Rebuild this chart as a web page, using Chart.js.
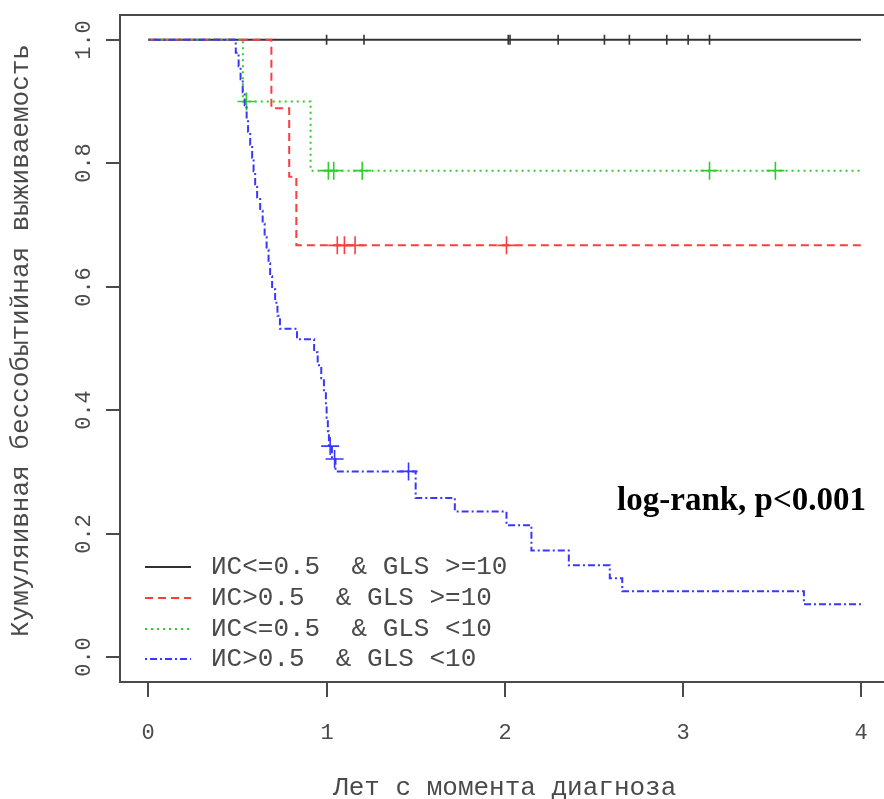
<!DOCTYPE html>
<html>
<head>
<meta charset="utf-8">
<script src="https://cdn.jsdelivr.net/npm/chart.js@4.4.1/dist/chart.umd.min.js"></script>
<style>
	html, body { margin: 0; padding: 0; background: #fff; overflow: hidden; }
	canvas { display: block; }
</style>
</head>
<body>
<canvas id="km-chart" width="900" height="799"></canvas>
<script>
// legend labels, one per group
var groups = ['ИС<=0.5  & GLS >=10', 'ИС>0.5  & GLS >=10', 'ИС<=0.5  & GLS <10', 'ИС>0.5  & GLS <10'];

// step curves: time in years and survival from that time on
var blackTimes = [0, 4];
var blackSurv = [1, 1];
var blackCensored = [1.00, 1.21, 2.02, 2.03, 2.30, 2.56, 2.70, 2.91, 3.03, 3.15];

var redTimes = [0, 0.69, 0.79, 0.83, 4];
var redSurv = [1, 0.889, 0.778, 0.667, 0.667];
var redCensored = [1.06, 1.10, 1.16, 2.01];

var greenTimes = [0, 0.53, 0.91, 4];
var greenSurv = [1, 0.9, 0.788, 0.788];
var greenCensored = [0.55, 1.01, 1.04, 1.20, 3.15, 3.52];

var blueTimes = [0, 0.49, 0.506, 0.517, 0.529, 0.540, 0.551, 0.559, 0.571, 0.582, 0.590, 0.599, 0.610,
	0.627, 0.641, 0.652, 0.663, 0.674, 0.683, 0.694, 0.711, 0.724, 0.738, 0.834,
	0.93, 0.95, 0.97, 0.985, 0.996, 1.00, 1.007, 1.013, 1.03, 1.05,
	1.50, 1.72, 2.01, 2.15, 2.36, 2.59, 2.66, 3.68, 4];
var blueSurv = [1, 0.979, 0.957, 0.936, 0.915, 0.894, 0.872, 0.851, 0.830, 0.809, 0.787, 0.766, 0.745,
	0.723, 0.702, 0.681, 0.660, 0.638, 0.617, 0.596, 0.574, 0.553, 0.532, 0.515,
	0.494, 0.473, 0.452, 0.430, 0.409, 0.388, 0.366, 0.342, 0.321, 0.301,
	0.258, 0.236, 0.214, 0.173, 0.149, 0.128, 0.107, 0.086, 0.086];
var blueCensored = [1.02, 1.045, 1.46];

// axes
var xTicks = [0, 1, 2, 3, 4];
var yTicks = [0, 0.2, 0.4, 0.6, 0.8, 1.0];
var yTickLabels = ['0.0', '0.2', '0.4', '0.6', '0.8', '1.0'];
var xTitle = 'Лет с момента диагноза';
var yTitle = 'Кумуляивная бессобытийная выживаемость';
var note = 'log-rank, p<0.001';

var colors = ['rgb(50,50,50)', 'rgb(255,60,60)', 'rgb(45,205,45)', 'rgb(55,55,255)'];
var dashes = [[], [8, 5], [2, 4], [2, 3, 7, 3]];
var textColor = '#4a4a4a';
var mono = '"Liberation Mono", "DejaVu Sans Mono", monospace';

function toPoints(times, surv) {
	return times.map(function (t, i) { return {x: t, y: surv[i]}; });
}

// survival value at time t for a step curve
function survAt(times, surv, t) {
	var s = surv[0];
	for (var i = 0; i < times.length; i++) {
		if (times[i] <= t) s = surv[i];
	}
	return s;
}

function censorPoints(times, surv, cens) {
	return cens.map(function (t) { return {x: t, y: survAt(times, surv, t)}; });
}

function curve(times, surv, k) {
	return {
		data: toPoints(times, surv),
		borderColor: colors[k],
		borderWidth: 2,
		borderDash: dashes[k],
		stepped: 'before',
		pointRadius: 0,
		fill: false,
		order: 8 - k * 2
	};
}

function censors(times, surv, cens, k, style) {
	return {
		data: censorPoints(times, surv, cens),
		showLine: false,
		borderColor: colors[k],
		backgroundColor: colors[k],
		pointStyle: style || 'cross',
		pointRotation: style ? 90 : 0,
		pointRadius: style ? 5 : 9,
		pointBorderWidth: 1.6,
		order: 7 - k * 2
	};
}

var rAxes = {
	id: 'rAxes',
	afterDraw: function (chart) {
		var ctx = chart.ctx;
		var a = chart.chartArea;
		var xs = chart.scales.x;
		var ys = chart.scales.y;
		ctx.save();

		// box
		ctx.strokeStyle = '#4a4a4a';
		ctx.lineWidth = 2;
		ctx.setLineDash([]);
		ctx.strokeRect(a.left, a.top, a.right - a.left, a.bottom - a.top);

		// x ticks
		ctx.fillStyle = textColor;
		ctx.font = '22px ' + mono;
		ctx.textAlign = 'center';
		ctx.textBaseline = 'middle';
		xTicks.forEach(function (v) {
			var px = Math.round(xs.getPixelForValue(v));
			ctx.beginPath();
			ctx.moveTo(px, a.bottom);
			ctx.lineTo(px, a.bottom + 15);
			ctx.stroke();
			ctx.fillText(String(v), px, 733);
		});

		// y ticks, labels parallel to axis
		yTicks.forEach(function (v, i) {
			var py = Math.round(ys.getPixelForValue(v));
			ctx.beginPath();
			ctx.moveTo(a.left, py);
			ctx.lineTo(a.left - 14, py);
			ctx.stroke();
			ctx.save();
			ctx.translate(84, py);
			ctx.rotate(-Math.PI / 2);
			ctx.fillText(yTickLabels[i], 0, 0);
			ctx.restore();
		});

		// titles
		ctx.font = '26px ' + mono;
		ctx.fillText(xTitle, (a.left + a.right) / 2, 788);
		ctx.save();
		ctx.translate(21, (a.top + a.bottom) / 2 - 8);
		ctx.rotate(-Math.PI / 2);
		ctx.fillText(yTitle, 0, 0);
		ctx.restore();

		// legend
		var rows = [567, 598, 629, 659];
		groups.forEach(function (g, k) {
			ctx.strokeStyle = colors[k];
			ctx.lineWidth = 2;
			ctx.setLineDash(dashes[k]);
			ctx.beginPath();
			ctx.moveTo(145, rows[k]);
			ctx.lineTo(191, rows[k]);
			ctx.stroke();
			ctx.setLineDash([]);
			ctx.fillStyle = textColor;
			ctx.textAlign = 'left';
			ctx.fillText(g, 211, rows[k]);
		});

		// test note
		ctx.fillStyle = '#000';
		ctx.font = 'bold 33px "Liberation Serif", "DejaVu Serif", serif';
		ctx.textAlign = 'right';
		ctx.textBaseline = 'alphabetic';
		ctx.fillText(note, 866, 510);
		ctx.restore();
	}
};

new Chart('km-chart', {
	type: 'line',
	data: {
		datasets: [
			curve(blackTimes, blackSurv, 0),
			censors(blackTimes, blackSurv, blackCensored, 0, 'line'),
			curve(redTimes, redSurv, 1),
			censors(redTimes, redSurv, redCensored, 1),
			curve(greenTimes, greenSurv, 2),
			censors(greenTimes, greenSurv, greenCensored, 2),
			curve(blueTimes, blueSurv, 3),
			censors(blueTimes, blueSurv, blueCensored, 3)
		]
	},
	options: {
		responsive: false,
		animation: false,
		layout: {padding: {left: 120, top: 15, right: 7, bottom: 117}},
		plugins: {legend: {display: false}, tooltip: {enabled: false}},
		scales: {
			x: {type: 'linear', min: -0.16, max: 4.16, display: false},
			y: {type: 'linear', min: -0.04, max: 1.04, display: false}
		}
	},
	plugins: [rAxes]
});
</script>
</body>
</html>
